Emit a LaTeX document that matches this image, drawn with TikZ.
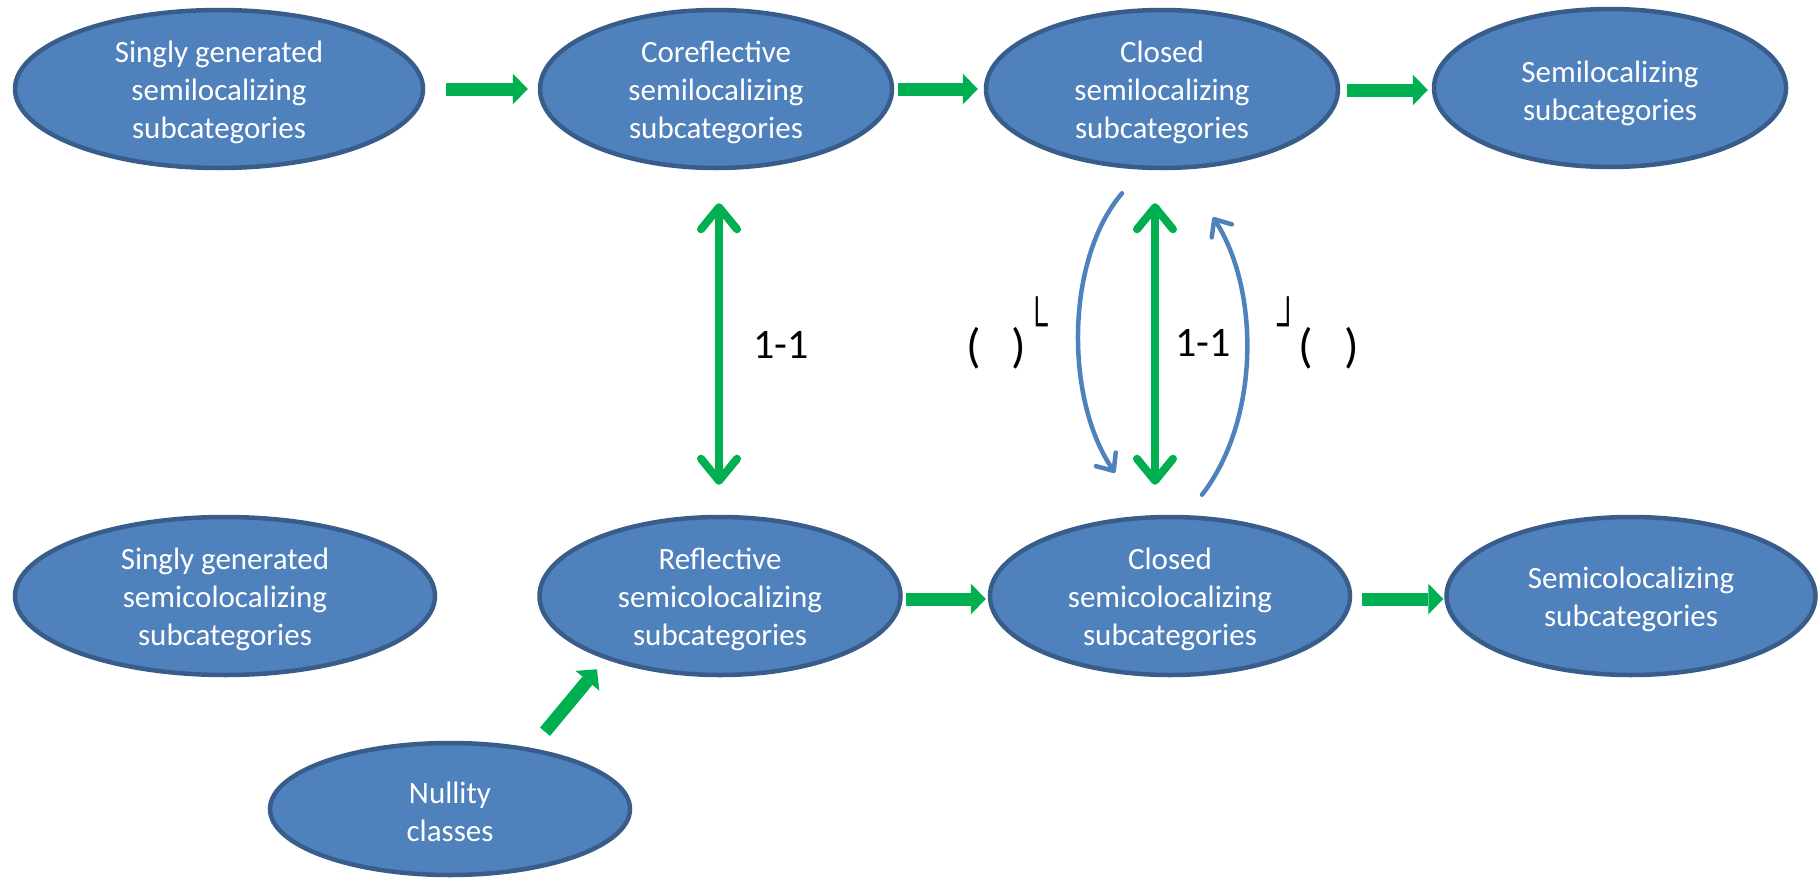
\documentclass[tikz,border=0pt]{standalone}
\usepackage{fontspec}
\usepackage{graphicx}
\setmainfont{Carlito}
\newfontfamily\cornerfont{Liberation Sans}
\usetikzlibrary{shapes.geometric,arrows.meta,calc}

\definecolor{blobfill}{HTML}{4F81BD}
\definecolor{blobedge}{HTML}{385D8A}
\definecolor{arrowgreen}{HTML}{00B050}
\definecolor{curveblue}{HTML}{4F81BD}

\tikzset{
  blob/.style={ellipse, draw=blobedge, fill=blobfill, line width=4.5pt, inner sep=0pt},
  blobtext/.style={text=white, align=center, inner sep=0pt, yshift=-3pt,
    font=\fontsize{31}{38}\selectfont},
  fat/.style={draw=arrowgreen, line width=13pt,
    -{Triangle[length=15pt,width=31pt,line width=0pt]}},
  twoway/.style={draw=arrowgreen, line width=8pt, line cap=round,
    {Straight Barb[length=22pt,width=36pt,round]}-{Straight Barb[length=22pt,width=36pt,round]}},
  bendarrow/.style={draw=curveblue, line width=4.5pt, line cap=round,
    -{Straight Barb[length=14pt,width=24pt,round]}},
  lbl/.style={inner sep=0pt, font=\fontsize{42}{50}\selectfont},
  paren/.style={inner sep=0pt, anchor=base west, font=\fontsize{48}{50}\selectfont},
}
% corner marks set as raised, narrowed superscripts
\newcommand{\lcornermark}{\raisebox{23pt}{\scalebox{0.65}[1]{\cornerfont\fontsize{47}{47}\selectfont └}}}
\newcommand{\rcornermark}{\raisebox{23pt}{\scalebox{0.65}[1]{\cornerfont\fontsize{47}{47}\selectfont ┘}}}

\begin{document}
\begin{tikzpicture}[x=1pt,y=-1pt]
\useasboundingbox (0,0) rectangle (1820,878);

% top row: semilocalizing side
\node[blob, minimum width=408pt, minimum height=158pt] (n1) at (219,89) {};
\node[blobtext] (t1) at (n1) {Singly generated\\semilocalizing\\subcategories};
\node[blob, minimum width=352pt, minimum height=158pt] (n2) at (716,89) {};
\node[blobtext] (t2) at (n2) {Coreflective\\semilocalizing\\subcategories};
\node[blob, minimum width=352pt, minimum height=158pt] (n3) at (1162,89) {};
\node[blobtext] (t3) at (n3) {Closed\\semilocalizing\\subcategories};
\node[blob, minimum width=352pt, minimum height=158pt] (n4) at (1610,88) {};
\node[blobtext, yshift=-2pt] (t4) at (n4) {Semilocalizing\\subcategories};

% bottom row: semicolocalizing side
\node[blob, minimum width=420pt, minimum height=158pt] (n5) at (225,596) {};
\node[blobtext] (t5) at (n5) {Singly generated\\semicolocalizing\\subcategories};
\node[blob, minimum width=361pt, minimum height=158pt] (n6) at (720,596) {};
\node[blobtext] (t6) at (n6) {Reflective\\semicolocalizing\\subcategories};
\node[blob, minimum width=360pt, minimum height=158pt] (n7) at (1170,596) {};
\node[blobtext] (t7) at (n7) {Closed\\semicolocalizing\\subcategories};
\node[blob, minimum width=369pt, minimum height=158pt] (n8) at (1631,596) {};
\node[blobtext] (t8) at (n8) {Semicolocalizing\\subcategories};

\node[blob, minimum width=360pt, minimum height=132pt] (n9) at (450,809) {};
\node[blobtext] (t9) at (n9) {Nullity\\classes};

% inclusions
\draw[fat] ($(n1.east)+(21,0)$) -- ($(n2.west)+(-10,0)$);
\draw[fat] ($(n2.east)+(4,0)$) -- ($(n3.west)+(-6,0)$);
\draw[fat] ($(n3.east)+(7,1)$) -- ($(n4.west)+(-4,2)$);
\draw[fat] ($(n6.east)+(3,3)$) -- ($(n7.west)+(-2,3)$);
\draw[fat] ($(n7.east)+(10,3)$) -- ($(n8.west)+(-1,3)$);
\draw[fat] ($(n9.north)+(95,-9)$) -- ($(n6.south)+(-123,-8)$);

% bijections
\draw[twoway] ($(n2.south)+(3,33)$) -- ($(n6.north)+(-1,-30)$);
\draw[twoway] ($(n3.south)+(-7,33)$) -- ($(n7.north)+(-15,-30)$);
\node[lbl] (b1) at (781,345) {1-1};
\node[lbl] (b2) at (1203,343) {1-1};

% the two correspondences
\coordinate (la) at ($(n3.south)+(-40,23)$);
\coordinate (lb) at ($(n7.north)+(-55,-42)$);
\coordinate (ra) at ($(n7.north)+(32,-20)$);
\coordinate (rb) at ($(n3.south)+(51,47)$);
\draw[bendarrow] (la) .. controls (1065,260) and (1065,400) .. (lb);
\draw[bendarrow] (ra) .. controls (1260,420) and (1260,290) .. (rb);

\node[paren] (p1) at (966,362) {(\hspace{31pt})\lcornermark};
\node[paren] (p2) at (1277,362) {\rcornermark(\hspace{31pt})};
\end{tikzpicture}
\end{document}
